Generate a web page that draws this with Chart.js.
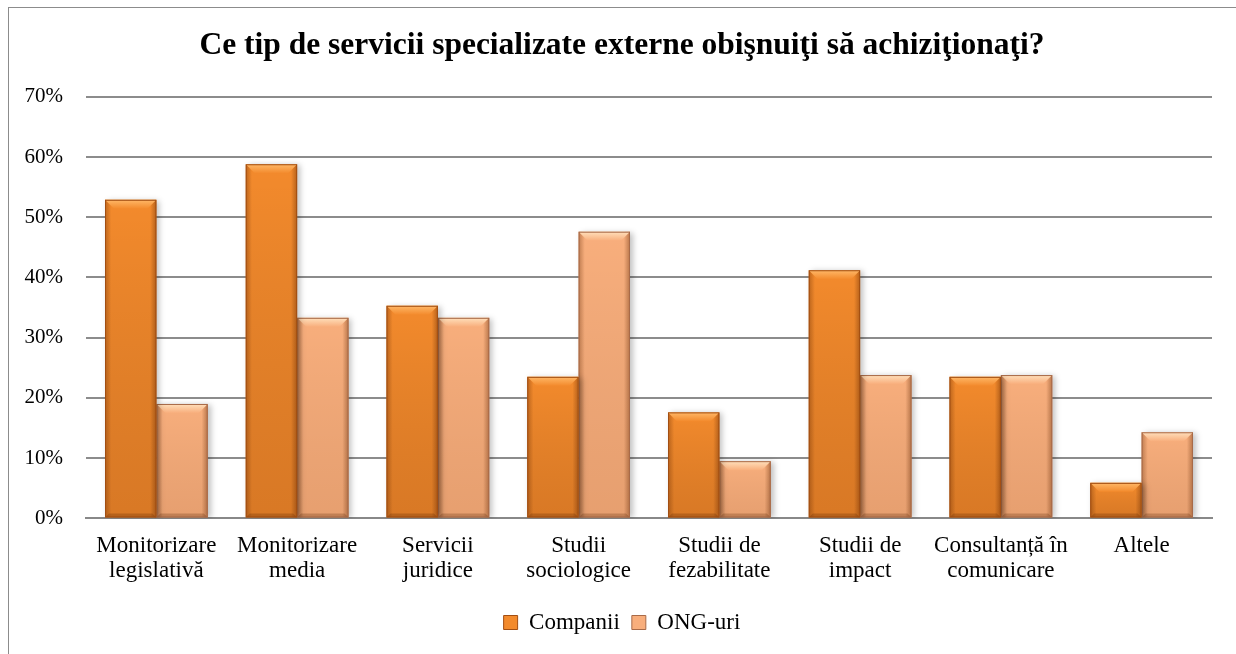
<!DOCTYPE html>
<html><head><meta charset="utf-8">
<script src="https://cdn.jsdelivr.net/npm/chart.js@4"></script>
<style>
html,body{margin:0;padding:0;background:#fff;}
#wrap{position:absolute;left:0;top:0;width:1236px;height:654px;}
#frame{position:absolute;left:8px;top:7px;width:1240px;height:660px;border:1px solid #8c8c8c;pointer-events:none;}
</style></head>
<body>
<div id="wrap"><canvas id="c" width="1236" height="654"></canvas></div>
<div id="frame"></div>
<script>
const titleText = 'Ce tip de servicii specializate externe obişnuiţi să achiziţionaţi?';
const categories = [
  ['Monitorizare','legislativă'],
  ['Monitorizare','media'],
  ['Servicii','juridice'],
  ['Studii','sociologice'],
  ['Studii de','fezabilitate'],
  ['Studii de','impact'],
  ['Consultanță în','comunicare'],
  ['Altele']
];
const seriesNames = ['Companii','ONG-uri'];
const companii = [52.9, 58.8, 35.3, 23.5, 17.6, 41.2, 23.5, 5.9];
const ong = [19.0, 33.3, 33.3, 47.6, 9.5, 23.8, 23.8, 14.3];
const yTicks = [0,10,20,30,40,50,60,70];

const FONT = "'Liberation Serif', serif";
const baseColors = ['#F38A2C', '#F8AE7C'];
const topColors = ['#FFB868', '#FFE0BC'];
const borderColors = ['#A24E12', '#A86A48'];

const bevelPlugin = {
  id: 'bevel',
  beforeDatasetDraw(chart) {
    const ctx = chart.ctx;
    ctx.save();
    ctx.shadowColor = 'rgba(0,0,0,0.25)';
    ctx.shadowBlur = 6;
    ctx.shadowOffsetX = 3;
    ctx.shadowOffsetY = 1;
  },
  afterDatasetDraw(chart, args) {
    const ctx = chart.ctx;
    ctx.restore();
    const meta = args.meta;
    const di = args.index;
    meta.data.forEach(el => {
      const p = el.getProps(['x','y','width','base'], true);
      const l = p.x - p.width/2, r = p.x + p.width/2, t = p.y, b = p.base;
      const h = b - t;
      ctx.save();
      let g = ctx.createLinearGradient(0, t, 0, b);
      g.addColorStop(0, 'rgba(0,0,0,0)');
      g.addColorStop(1, di === 0 ? 'rgba(80,30,0,0.16)' : 'rgba(80,30,0,0.10)');
      ctx.fillStyle = g;
      ctx.fillRect(l, t, r-l, h);
      g = ctx.createLinearGradient(l, 0, r, 0);
      g.addColorStop(0, 'rgba(90,35,0,0.35)');
      g.addColorStop(0.12, 'rgba(90,35,0,0.0)');
      g.addColorStop(0.88, 'rgba(90,35,0,0.0)');
      g.addColorStop(1, 'rgba(90,35,0,0.4)');
      ctx.fillStyle = g;
      ctx.fillRect(l, t, r-l, h);
      const bv = Math.min(9, h/2);
      ctx.beginPath();
      ctx.moveTo(l, t); ctx.lineTo(r, t); ctx.lineTo(r-bv, t+bv); ctx.lineTo(l+bv, t+bv); ctx.closePath();
      g = ctx.createLinearGradient(0, t, 0, t+bv);
      g.addColorStop(0, topColors[di]);
      g.addColorStop(1, baseColors[di]);
      ctx.fillStyle = g;
      ctx.fill();
      ctx.beginPath();
      ctx.moveTo(l, b); ctx.lineTo(r, b); ctx.lineTo(r-4, b-4); ctx.lineTo(l+4, b-4); ctx.closePath();
      ctx.fillStyle = 'rgba(80,30,0,0.25)';
      ctx.fill();
      ctx.strokeStyle = borderColors[di];
      ctx.lineWidth = 1;
      ctx.strokeRect(l+0.5, t+0.5, r-l-1, h-1);
      ctx.restore();
    });
  }
};

new Chart(document.getElementById('c'), {
  type: 'bar',
  data: {
    labels: categories,
    datasets: [
      { label: seriesNames[0], data: companii, backgroundColor: baseColors[0], borderWidth: 0,
        categoryPercentage: 0.73, barPercentage: 1.0 },
      { label: seriesNames[1], data: ong, backgroundColor: baseColors[1], borderWidth: 0,
        categoryPercentage: 0.73, barPercentage: 1.0 }
    ]
  },
  options: {
    responsive: false,
    animation: false,
    devicePixelRatio: 1,
    layout: { padding: { top: 27, right: 0, left: 8, bottom: 10 } },
    plugins: {
      title: { display: true, text: titleText, color: '#000',
        font: { family: FONT, size: 31.5, weight: 'bold', lineHeight: 1.2 }, padding: { top: 0, bottom: 32 } },
      legend: { position: 'bottom',
        labels: { color: '#000', font: { family: FONT, size: 23 }, boxWidth: 14, boxHeight: 14, padding: 12,
          generateLabels(chart) {
            return chart.data.datasets.map((ds, i) => ({
              text: ds.label, fillStyle: baseColors[i], strokeStyle: borderColors[i], lineWidth: 1,
              datasetIndex: i, hidden: false, fontColor: '#000'
            }));
          } } },
      tooltip: { enabled: false }
    },
    scales: {
      x: {
        grid: { display: false, drawTicks: false },
        border: { color: '#888', width: 2 },
        ticks: { color: '#000', font: { family: FONT, size: 23, lineHeight: 1.1 }, padding: 15, maxRotation: 0, autoSkip: false }
      },
      y: {
        min: 0, max: 70,
        afterFit(scale) { scale.width = 78; },
        afterBuildTicks(scale) { scale.ticks = yTicks.map(v => ({ value: v })); },
        grid: { color: '#8c8c8c', lineWidth: 2, drawTicks: false },
        border: { display: false },
        ticks: { color: '#000', font: { family: FONT, size: 21 }, padding: 23,
          callback: v => v + '%' }
      },
      yRight: {
        position: 'right', min: 0, max: 70,
        afterFit(scale) { scale.width = 24; },
        grid: { drawOnChartArea: false, drawTicks: false },
        border: { display: false },
        ticks: { display: false }
      }
    }
  },
  plugins: [bevelPlugin]
});
</script>
</body></html>
